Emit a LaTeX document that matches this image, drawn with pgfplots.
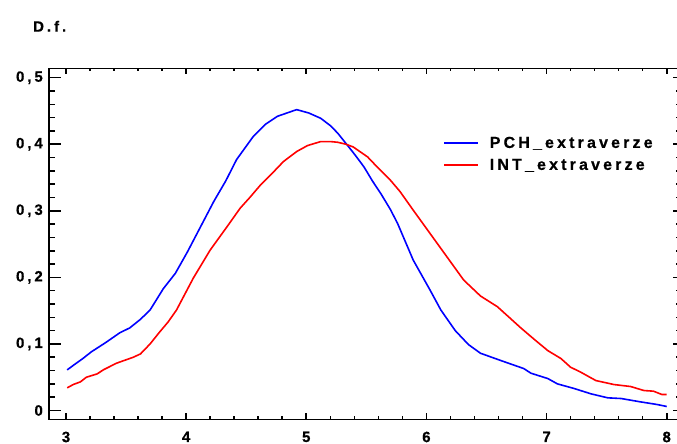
\documentclass[border=0pt]{standalone}
\usepackage{fontspec}
\setmainfont{Liberation Sans}[LetterSpace=20]
\newfontfamily\boldsans{Liberation Sans Bold}[LetterSpace=20, FakeBold=0.6]
\usepackage{pgfplots}
\pgfplotsset{compat=1.18}

\begin{document}
\begin{tikzpicture}
% common frame: 1px = 1bp
\pgfplotsset{
  dfframe/.style={
    scale only axis,
    width=630bp, height=351bp,
    xmin=2.8585, xmax=8.1024,
    ymin=-0.01354, ymax=0.5138,
    xtick={3,4,5,6,7,8},
    ytick={0,0.1,0.2,0.3,0.4,0.5},
    minor x tick num=4,
    minor y tick num=4,
    tick align=inside,
    axis line style={line width=1.8bp},
    every tick/.style={black, line width=1.6bp},
  }
}
\begin{axis}[
  dfframe,
  major tick length=6bp, minor tick length=3bp,
  xtick pos=both, xticklabel pos=left,
  ytick pos=right, yticklabel pos=left,
  /pgf/number format/.cd, use comma, fixed, precision=1, assume math mode=true,
  /pgfplots/.cd,
  tick label style={font=\boldsans\fontsize{15}{15}\selectfont},
  yticklabel style={inner sep=0pt, anchor=east, xshift=-6bp},
  xticklabel style={inner sep=0pt, anchor=north, yshift=-12bp},
  legend style={draw=none, fill=none, at={(0.6254,0.806)}, anchor=north west,
    font=\boldsans\fontsize{16}{16}\selectfont,
    row sep=9.5bp, column sep=11bp, inner sep=0pt,
    nodes={inner sep=0pt, anchor=west}},
  legend cell align=left,
  legend image code/.code={\draw[#1, line width=1.6bp] (0bp,0bp) -- (34bp,0bp);},
]
\addplot[color={rgb,255:red,0;green,0;blue,255}, line width=1.6bp] coordinates {
(3.01,0.061) (3.07,0.069) (3.14,0.078) (3.21,0.088) (3.33,0.102) (3.45,0.117)
(3.53,0.124) (3.62,0.137) (3.70,0.151) (3.81,0.183) (3.91,0.206) (4.01,0.238)
(4.12,0.276) (4.23,0.314) (4.33,0.345) (4.42,0.377) (4.56,0.412) (4.66,0.430)
(4.76,0.442) (4.84,0.447) (4.92,0.452) (5.02,0.447) (5.12,0.439) (5.20,0.428)
(5.26,0.417) (5.34,0.399) (5.41,0.383) (5.48,0.366) (5.55,0.345) (5.62,0.326)
(5.70,0.302) (5.76,0.281) (5.89,0.226) (6.03,0.181) (6.12,0.151) (6.24,0.120)
(6.35,0.099) (6.45,0.086) (6.62,0.075) (6.81,0.063) (6.87,0.056) (7.01,0.048)
(7.09,0.040) (7.23,0.033) (7.37,0.025) (7.51,0.019) (7.62,0.018) (7.78,0.013)
(7.92,0.009) (8.00,0.006)
};
\addlegendentry{PCH\_extraverze}
\addplot[color={rgb,255:red,255;green,0;blue,0}, line width=1.6bp] coordinates {
(3.01,0.034) (3.06,0.039) (3.12,0.043) (3.17,0.050) (3.26,0.055) (3.31,0.061)
(3.42,0.071) (3.56,0.080) (3.62,0.085) (3.70,0.100) (3.78,0.118) (3.85,0.133)
(3.92,0.151) (3.99,0.175) (4.06,0.199) (4.13,0.220) (4.20,0.241) (4.28,0.261)
(4.34,0.276) (4.45,0.304) (4.53,0.320) (4.62,0.339) (4.72,0.357) (4.81,0.374)
(4.92,0.389) (5.01,0.398) (5.12,0.404) (5.20,0.404) (5.26,0.403) (5.33,0.400)
(5.39,0.396) (5.51,0.381) (5.60,0.364) (5.70,0.346) (5.78,0.329) (5.89,0.301)
(5.99,0.276) (6.09,0.251) (6.17,0.231) (6.31,0.196) (6.45,0.172) (6.59,0.156)
(6.67,0.143) (6.78,0.125) (6.89,0.108) (7.01,0.090) (7.12,0.078) (7.20,0.065)
(7.28,0.058) (7.41,0.045) (7.56,0.039) (7.70,0.036) (7.81,0.030) (7.89,0.029)
(7.96,0.024) (8.00,0.024)
};
\addlegendentry{INT\_extraverze}
\end{axis}
% longer ticks on the left side
\begin{axis}[
  dfframe,
  major tick length=12bp, minor tick length=6bp,
  hide x axis,
  ytick pos=left, yticklabels={},
]
\end{axis}
% axis title above the y axis
\node[anchor=base west, inner sep=0pt, font=\boldsans\fontsize{15}{15}\selectfont]
  at (-16bp,387.8bp) {D.f.};
\pgfresetboundingbox
\path[use as bounding box] (-49bp,-24.5bp) rectangle (628bp,419.5bp);
\end{tikzpicture}
\end{document}
